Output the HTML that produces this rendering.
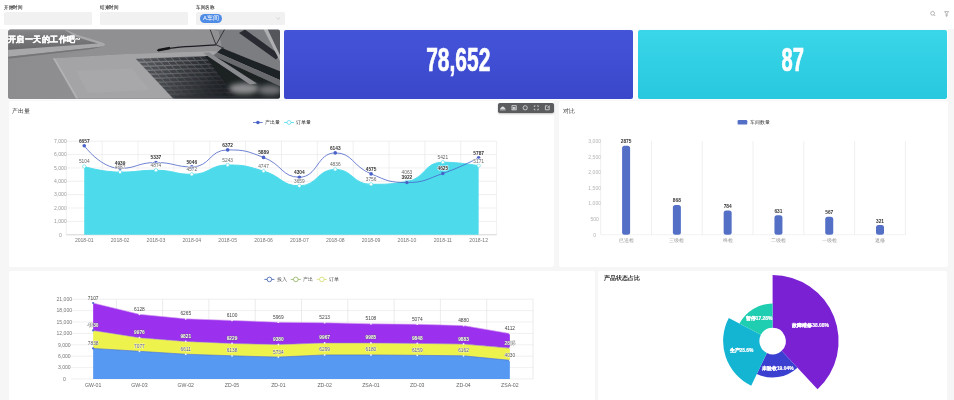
<!DOCTYPE html>
<html><head><meta charset="utf-8">
<style>
*{margin:0;padding:0;box-sizing:border-box}
html,body{width:954px;height:400px;overflow:hidden;background:#f6f6f6;font-family:"Liberation Sans",sans-serif}
body{will-change:transform}
.abs{position:absolute}
.hdr{left:0;top:0;width:954px;height:29px;background:#fff}
.lbl{font-size:5.3px;color:#333;top:3.5px;-webkit-text-stroke:0.12px #333;line-height:6px;transform:scaleX(0.9);transform-origin:0 0;white-space:nowrap}
.inp{top:12.4px;height:12.6px;background:#f1f1f1;border-radius:1.5px}
.card{background:#fff;border-radius:2px}
.ttl{font-size:5.6px;color:#333;font-weight:normal;white-space:nowrap;line-height:7px}
.num{color:#fff;font-weight:bold;font-size:33px;line-height:33px;-webkit-text-stroke:0.7px #fff;white-space:nowrap;transform-origin:center center}
svg{position:absolute;left:0;top:0;overflow:visible}
svg text{font-family:"Liberation Sans",sans-serif}
</style></head><body>
<div class="abs hdr"></div>
<div class="abs lbl" style="left:4px">开始时间</div>
<div class="abs lbl" style="left:100px">结束时间</div>
<div class="abs lbl" style="left:196px">车间名称</div>
<div class="abs inp" style="left:4.3px;width:88.2px"></div>
<div class="abs inp" style="left:100.2px;width:88px"></div>
<div class="abs inp" style="left:196.3px;width:89px"></div>
<div class="abs" style="left:200px;top:14px;width:22px;height:9px;border-radius:4.5px;background:#4f8ce6;color:#fff;font-size:5.8px;line-height:9px;text-align:center;font-weight:normal">A车间</div>

<svg style="position:absolute;left:0;top:0" width="954" height="30">
<path d="M276.3 17.6 L278.2 19.4 L280.1 17.6" fill="none" stroke="#c0c0c0" stroke-width="0.6"/>
<circle cx="932.6" cy="13.3" r="1.9" fill="none" stroke="#888" stroke-width="0.6"/>
<line x1="934" y1="14.7" x2="935.3" y2="16" stroke="#888" stroke-width="0.6"/>
<path d="M944.6 11.6 L948.6 11.6 L947.1 13.6 L947.1 16.2 L946.1 16.2 L946.1 13.6 Z" fill="none" stroke="#888" stroke-width="0.6"/>
</svg>
<!-- top row strip -->
<div class="abs" style="left:8px;top:29px;width:940px;height:71px;background:#fafbfc"></div>
<div class="abs card" id="banner" style="left:8.3px;top:29.5px;width:271.7px;height:69px;background:#8a8b8e;overflow:hidden"></div>
<div class="abs card" style="left:284px;top:29.5px;width:348.5px;height:69.2px;background:linear-gradient(#4454d9,#3a47cb)"></div>
<div class="abs card" style="left:637.5px;top:29.5px;width:309.3px;height:69.2px;background:linear-gradient(#3ad6e9,#28c8de)"></div>

<!-- mid row -->
<div class="abs card" style="left:8.5px;top:100.5px;width:545.5px;height:166.5px"></div>
<div class="abs card" style="left:559px;top:100.5px;width:389px;height:166.5px"></div>
<!-- bottom row -->
<div class="abs card" style="left:8.5px;top:271px;width:586px;height:140px"></div>
<div class="abs card" style="left:598px;top:271px;width:349px;height:140px"></div>


<div class="abs num" style="left:284px;top:42.9px;width:348.5px;text-align:center;transform:scaleX(0.635)">78,652</div>
<div class="abs num" style="left:637.5px;top:42.9px;width:309.3px;text-align:center;transform:scaleX(0.61)">87</div>
<div class="abs" style="left:497.7px;top:103px;width:56.5px;height:9.7px;border-radius:1.8px;background:#5b5c5e;box-shadow:0 1px 2px rgba(0,0,0,0.25)"></div>
<div class="abs ttl" style="left:12.4px;top:108px;color:#333">产出量</div>
<div class="abs ttl" style="left:562.5px;top:107.8px;color:#444">对比</div>
<div class="abs ttl" style="left:603.8px;top:274.4px;font-size:6.35px;font-weight:bold">产品状态占比</div>
<svg width="954" height="400" viewBox="0 0 954 400">
<defs><clipPath id="bc"><rect x="8.3" y="29.5" width="271.7" height="69" rx="2"/></clipPath>
<clipPath id="kc"><path d="M135.4 58.5 L205.6 56 L282 92 L282 100 L174.5 100 Z"/></clipPath>
<linearGradient id="kbg" x1="0" y1="0" x2="1" y2="0.3"><stop offset="0" stop-color="#8c8d90"/><stop offset="0.3" stop-color="#6a6c70"/><stop offset="0.65" stop-color="#2e3135"/><stop offset="1" stop-color="#1c1e22"/></linearGradient>
<linearGradient id="tsg" x1="0" y1="0" x2="0" y2="1"><stop offset="0" stop-color="#858587"/><stop offset="1" stop-color="#68686a"/></linearGradient><linearGradient id="bgg" x1="0" y1="0" x2="1" y2="0"><stop offset="0" stop-color="#8d8d90"/><stop offset="1" stop-color="#949497"/></linearGradient>
<filter id="bl" x="-5%" y="-5%" width="110%" height="110%"><feGaussianBlur stdDeviation="0.4"/></filter>
<filter id="bl2" x="-50%" y="-50%" width="200%" height="200%"><feGaussianBlur stdDeviation="2.5"/></filter></defs>
<g clip-path="url(#bc)"><g filter="url(#bl)">
<rect x="7" y="28" width="275" height="72" fill="url(#bgg)"/>
<rect x="7" y="28" width="275" height="2.3" fill="#66676a"/>
<path d="M6 30 L67 30 L77 34.6 L103 42.4 Q107.5 44.3 103 46.6 L6 57 Z" fill="#a8a8aa"/>
<path d="M6 30 L65 30 L75.5 36.8 L98 43.5 L6 50 Z" fill="url(#tsg)"/>
<path d="M6 57 L103 46.5 L101 48 L6 59 Z" fill="#757577"/>
<path d="M53 58.3 L120 54.2 L212 51 L282 60 L282 100 L77 100 Z" fill="#a4a4a6"/>
<path d="M53 58.3 L77 100 L79 100 L55 58.2 Z" fill="#b3b3b5"/>
<path d="M76 71 L132 68.5 L150 90 L88 93 Z" fill="#a8a8aa"/>
<path d="M135.4 58.5 L205.6 56 L282 92 L282 100 L174.5 100 Z" fill="url(#kbg)"/>
<g clip-path="url(#kc)">
<path d="M121.4 59.3 L127.6 59.2 L130.2 61.9 L124.0 62.1 Z" fill="#606266"/>
<path d="M128.6 59.1 L134.8 58.9 L137.4 61.7 L131.2 61.8 Z" fill="#606266"/>
<path d="M135.8 58.9 L142.0 58.7 L144.6 61.4 L138.4 61.6 Z" fill="#585a5e"/>
<path d="M143.0 58.7 L149.2 58.5 L151.8 61.2 L145.6 61.4 Z" fill="#525458"/>
<path d="M150.2 58.5 L156.4 58.3 L159.0 61.0 L152.8 61.2 Z" fill="#4c4e52"/>
<path d="M157.4 58.2 L163.6 58.1 L166.2 60.8 L160.0 61.0 Z" fill="#46494d"/>
<path d="M164.6 58.0 L170.8 57.8 L173.4 60.6 L167.2 60.7 Z" fill="#414448"/>
<path d="M171.8 57.8 L178.0 57.6 L180.6 60.3 L174.4 60.5 Z" fill="#3c3f43"/>
<path d="M179.0 57.6 L185.2 57.4 L187.8 60.1 L181.6 60.3 Z" fill="#383a3f"/>
<path d="M186.2 57.4 L192.4 57.2 L195.0 59.9 L188.8 60.1 Z" fill="#33363a"/>
<path d="M193.4 57.1 L199.6 57.0 L202.2 59.7 L196.0 59.9 Z" fill="#2e3136"/>
<path d="M200.6 56.9 L206.8 56.7 L209.4 59.5 L203.2 59.6 Z" fill="#2a2d32"/>
<path d="M207.8 56.7 L214.0 56.5 L216.6 59.2 L210.4 59.4 Z" fill="#26292d"/>
<path d="M215.0 56.5 L221.2 56.3 L223.8 59.0 L217.6 59.2 Z" fill="#212429"/>
<path d="M222.2 56.3 L228.4 56.1 L231.0 58.8 L224.8 59.0 Z" fill="#1d2025"/>
<path d="M229.4 56.0 L235.6 55.9 L238.2 58.6 L232.0 58.8 Z" fill="#1c1f24"/>
<path d="M236.6 55.8 L242.8 55.6 L245.4 58.4 L239.2 58.5 Z" fill="#1c1f24"/>
<path d="M243.8 55.6 L250.0 55.4 L252.6 58.1 L246.4 58.3 Z" fill="#1c1f24"/>
<path d="M251.0 55.4 L257.2 55.2 L259.8 57.9 L253.6 58.1 Z" fill="#1c1f24"/>
<path d="M258.2 55.2 L264.4 55.0 L267.0 57.7 L260.8 57.9 Z" fill="#1c1f24"/>
<path d="M125.2 63.3 L131.4 63.2 L134.1 65.9 L127.9 66.1 Z" fill="#606266"/>
<path d="M132.5 63.1 L138.6 62.9 L141.3 65.7 L135.1 65.8 Z" fill="#5c5e62"/>
<path d="M139.7 62.9 L145.8 62.7 L148.5 65.4 L142.3 65.6 Z" fill="#55575b"/>
<path d="M146.8 62.7 L153.0 62.5 L155.7 65.2 L149.5 65.4 Z" fill="#4f5155"/>
<path d="M154.1 62.5 L160.2 62.3 L162.9 65.0 L156.7 65.2 Z" fill="#494b50"/>
<path d="M161.2 62.2 L167.4 62.1 L170.1 64.8 L163.9 65.0 Z" fill="#44464b"/>
<path d="M168.5 62.0 L174.6 61.8 L177.3 64.6 L171.1 64.7 Z" fill="#3f4146"/>
<path d="M175.7 61.8 L181.8 61.6 L184.5 64.3 L178.3 64.5 Z" fill="#3a3c41"/>
<path d="M182.8 61.6 L189.0 61.4 L191.7 64.1 L185.5 64.3 Z" fill="#35383c"/>
<path d="M190.1 61.4 L196.2 61.2 L198.9 63.9 L192.7 64.1 Z" fill="#313338"/>
<path d="M197.2 61.1 L203.4 61.0 L206.1 63.7 L199.9 63.9 Z" fill="#2c2f34"/>
<path d="M204.5 60.9 L210.6 60.7 L213.3 63.5 L207.1 63.6 Z" fill="#282b2f"/>
<path d="M211.7 60.7 L217.8 60.5 L220.5 63.2 L214.3 63.4 Z" fill="#23262b"/>
<path d="M218.8 60.5 L225.0 60.3 L227.7 63.0 L221.5 63.2 Z" fill="#1f2227"/>
<path d="M226.1 60.3 L232.2 60.1 L234.9 62.8 L228.7 63.0 Z" fill="#1c1f24"/>
<path d="M233.3 60.0 L239.4 59.9 L242.1 62.6 L235.9 62.8 Z" fill="#1c1f24"/>
<path d="M240.5 59.8 L246.6 59.6 L249.3 62.4 L243.1 62.5 Z" fill="#1c1f24"/>
<path d="M247.7 59.6 L253.8 59.4 L256.5 62.1 L250.3 62.3 Z" fill="#1c1f24"/>
<path d="M254.8 59.4 L261.0 59.2 L263.7 61.9 L257.5 62.1 Z" fill="#1c1f24"/>
<path d="M262.1 59.2 L268.2 59.0 L270.9 61.7 L264.7 61.9 Z" fill="#1c1f24"/>
<path d="M129.1 67.3 L135.3 67.2 L137.9 69.9 L131.7 70.1 Z" fill="#606266"/>
<path d="M136.3 67.1 L142.5 66.9 L145.1 69.7 L138.9 69.8 Z" fill="#585a5e"/>
<path d="M143.5 66.9 L149.7 66.7 L152.3 69.4 L146.1 69.6 Z" fill="#515358"/>
<path d="M150.7 66.7 L156.9 66.5 L159.5 69.2 L153.3 69.4 Z" fill="#4b4e52"/>
<path d="M157.9 66.5 L164.1 66.3 L166.7 69.0 L160.5 69.2 Z" fill="#46484d"/>
<path d="M165.1 66.2 L171.3 66.1 L173.9 68.8 L167.7 69.0 Z" fill="#414348"/>
<path d="M172.3 66.0 L178.5 65.8 L181.1 68.6 L174.9 68.7 Z" fill="#3c3f43"/>
<path d="M179.5 65.8 L185.7 65.6 L188.3 68.3 L182.1 68.5 Z" fill="#373a3e"/>
<path d="M186.7 65.6 L192.9 65.4 L195.5 68.1 L189.3 68.3 Z" fill="#33353a"/>
<path d="M193.9 65.4 L200.1 65.2 L202.7 67.9 L196.5 68.1 Z" fill="#2e3136"/>
<path d="M201.1 65.1 L207.3 65.0 L209.9 67.7 L203.7 67.9 Z" fill="#2a2d31"/>
<path d="M208.3 64.9 L214.5 64.7 L217.1 67.5 L210.9 67.6 Z" fill="#25282d"/>
<path d="M215.5 64.7 L221.7 64.5 L224.3 67.2 L218.1 67.4 Z" fill="#212429"/>
<path d="M222.7 64.5 L228.9 64.3 L231.5 67.0 L225.3 67.2 Z" fill="#1d2025"/>
<path d="M229.9 64.3 L236.1 64.1 L238.7 66.8 L232.5 67.0 Z" fill="#1c1f24"/>
<path d="M237.1 64.0 L243.3 63.9 L245.9 66.6 L239.7 66.8 Z" fill="#1c1f24"/>
<path d="M244.3 63.8 L250.5 63.6 L253.1 66.4 L246.9 66.5 Z" fill="#1c1f24"/>
<path d="M251.5 63.6 L257.7 63.4 L260.3 66.1 L254.1 66.3 Z" fill="#1c1f24"/>
<path d="M258.7 63.4 L264.9 63.2 L267.5 65.9 L261.3 66.1 Z" fill="#1c1f24"/>
<path d="M265.9 63.2 L272.1 63.0 L274.7 65.7 L268.5 65.9 Z" fill="#1c1f24"/>
<path d="M133.0 71.3 L139.1 71.2 L141.8 73.9 L135.6 74.1 Z" fill="#5b5d61"/>
<path d="M140.2 71.1 L146.3 70.9 L149.0 73.7 L142.8 73.8 Z" fill="#54565b"/>
<path d="M147.4 70.9 L153.5 70.7 L156.2 73.4 L150.0 73.6 Z" fill="#4e5055"/>
<path d="M154.6 70.7 L160.7 70.5 L163.4 73.2 L157.2 73.4 Z" fill="#494b4f"/>
<path d="M161.8 70.5 L167.9 70.3 L170.6 73.0 L164.4 73.2 Z" fill="#43464a"/>
<path d="M169.0 70.2 L175.1 70.1 L177.8 72.8 L171.6 73.0 Z" fill="#3e4145"/>
<path d="M176.2 70.0 L182.3 69.8 L185.0 72.6 L178.8 72.7 Z" fill="#393c41"/>
<path d="M183.4 69.8 L189.5 69.6 L192.2 72.3 L186.0 72.5 Z" fill="#35373c"/>
<path d="M190.6 69.6 L196.7 69.4 L199.4 72.1 L193.2 72.3 Z" fill="#303338"/>
<path d="M197.8 69.4 L203.9 69.2 L206.6 71.9 L200.4 72.1 Z" fill="#2c2f33"/>
<path d="M205.0 69.1 L211.1 69.0 L213.8 71.7 L207.6 71.9 Z" fill="#272a2f"/>
<path d="M212.2 68.9 L218.3 68.7 L221.0 71.5 L214.8 71.6 Z" fill="#23262b"/>
<path d="M219.4 68.7 L225.5 68.5 L228.2 71.2 L222.0 71.4 Z" fill="#1f2227"/>
<path d="M226.6 68.5 L232.7 68.3 L235.4 71.0 L229.2 71.2 Z" fill="#1c1f24"/>
<path d="M233.8 68.3 L239.9 68.1 L242.6 70.8 L236.4 71.0 Z" fill="#1c1f24"/>
<path d="M241.0 68.0 L247.1 67.9 L249.8 70.6 L243.6 70.8 Z" fill="#1c1f24"/>
<path d="M248.2 67.8 L254.3 67.6 L257.0 70.4 L250.8 70.5 Z" fill="#1c1f24"/>
<path d="M255.4 67.6 L261.5 67.4 L264.2 70.1 L258.0 70.3 Z" fill="#1c1f24"/>
<path d="M262.6 67.4 L268.7 67.2 L271.4 69.9 L265.2 70.1 Z" fill="#1c1f24"/>
<path d="M269.8 67.2 L275.9 67.0 L278.6 69.7 L272.4 69.9 Z" fill="#1c1f24"/>
<path d="M136.8 75.3 L143.0 75.2 L145.6 77.9 L139.4 78.1 Z" fill="#57595e"/>
<path d="M144.0 75.1 L150.2 74.9 L152.8 77.7 L146.6 77.8 Z" fill="#515357"/>
<path d="M151.2 74.9 L157.4 74.7 L160.0 77.4 L153.8 77.6 Z" fill="#4b4d52"/>
<path d="M158.4 74.7 L164.6 74.5 L167.2 77.2 L161.0 77.4 Z" fill="#46484d"/>
<path d="M165.6 74.5 L171.8 74.3 L174.4 77.0 L168.2 77.2 Z" fill="#414348"/>
<path d="M172.8 74.2 L179.0 74.1 L181.6 76.8 L175.4 77.0 Z" fill="#3c3e43"/>
<path d="M180.0 74.0 L186.2 73.8 L188.8 76.6 L182.6 76.7 Z" fill="#373a3e"/>
<path d="M187.2 73.8 L193.4 73.6 L196.0 76.3 L189.8 76.5 Z" fill="#32353a"/>
<path d="M194.4 73.6 L200.6 73.4 L203.2 76.1 L197.0 76.3 Z" fill="#2e3135"/>
<path d="M201.6 73.4 L207.8 73.2 L210.4 75.9 L204.2 76.1 Z" fill="#292c31"/>
<path d="M208.8 73.1 L215.0 73.0 L217.6 75.7 L211.4 75.9 Z" fill="#25282d"/>
<path d="M216.0 72.9 L222.2 72.7 L224.8 75.5 L218.6 75.6 Z" fill="#212429"/>
<path d="M223.2 72.7 L229.4 72.5 L232.0 75.2 L225.8 75.4 Z" fill="#1d2025"/>
<path d="M230.4 72.5 L236.6 72.3 L239.2 75.0 L233.0 75.2 Z" fill="#1c1f24"/>
<path d="M237.6 72.3 L243.8 72.1 L246.4 74.8 L240.2 75.0 Z" fill="#1c1f24"/>
<path d="M244.8 72.0 L251.0 71.9 L253.6 74.6 L247.4 74.8 Z" fill="#1c1f24"/>
<path d="M252.0 71.8 L258.2 71.6 L260.8 74.4 L254.6 74.5 Z" fill="#1c1f24"/>
<path d="M259.2 71.6 L265.4 71.4 L268.0 74.1 L261.8 74.3 Z" fill="#1c1f24"/>
<path d="M266.4 71.4 L272.6 71.2 L275.2 73.9 L269.0 74.1 Z" fill="#1c1f24"/>
<path d="M273.6 71.2 L279.8 71.0 L282.4 73.7 L276.2 73.9 Z" fill="#1c1f24"/>
<path d="M140.7 79.3 L146.8 79.2 L149.5 81.9 L143.3 82.1 Z" fill="#54565a"/>
<path d="M147.9 79.1 L154.0 78.9 L156.7 81.7 L150.5 81.8 Z" fill="#4e5054"/>
<path d="M155.1 78.9 L161.2 78.7 L163.9 81.4 L157.7 81.6 Z" fill="#484b4f"/>
<path d="M162.2 78.7 L168.4 78.5 L171.1 81.2 L164.9 81.4 Z" fill="#43454a"/>
<path d="M169.5 78.5 L175.6 78.3 L178.3 81.0 L172.1 81.2 Z" fill="#3e4045"/>
<path d="M176.7 78.2 L182.8 78.1 L185.5 80.8 L179.3 81.0 Z" fill="#393c40"/>
<path d="M183.9 78.0 L190.0 77.8 L192.7 80.6 L186.5 80.7 Z" fill="#34373c"/>
<path d="M191.1 77.8 L197.2 77.6 L199.9 80.3 L193.7 80.5 Z" fill="#303337"/>
<path d="M198.2 77.6 L204.4 77.4 L207.1 80.1 L200.9 80.3 Z" fill="#2b2e33"/>
<path d="M205.5 77.4 L211.6 77.2 L214.3 79.9 L208.1 80.1 Z" fill="#272a2f"/>
<path d="M212.7 77.1 L218.8 77.0 L221.5 79.7 L215.3 79.9 Z" fill="#23262b"/>
<path d="M219.9 76.9 L226.0 76.7 L228.7 79.5 L222.5 79.6 Z" fill="#1f2227"/>
<path d="M227.1 76.7 L233.2 76.5 L235.9 79.2 L229.7 79.4 Z" fill="#1c1f24"/>
<path d="M234.2 76.5 L240.4 76.3 L243.1 79.0 L236.9 79.2 Z" fill="#1c1f24"/>
<path d="M241.5 76.3 L247.6 76.1 L250.3 78.8 L244.1 79.0 Z" fill="#1c1f24"/>
<path d="M248.7 76.0 L254.8 75.9 L257.5 78.6 L251.3 78.8 Z" fill="#1c1f24"/>
<path d="M255.9 75.8 L262.0 75.6 L264.7 78.4 L258.5 78.5 Z" fill="#1c1f24"/>
<path d="M263.1 75.6 L269.2 75.4 L271.9 78.1 L265.7 78.3 Z" fill="#1c1f24"/>
<path d="M270.2 75.4 L276.4 75.2 L279.1 77.9 L272.9 78.1 Z" fill="#1c1f24"/>
<path d="M277.5 75.2 L283.6 75.0 L286.3 77.7 L280.1 77.9 Z" fill="#1c1f24"/>
<path d="M144.5 83.3 L150.7 83.2 L153.3 85.9 L147.1 86.1 Z" fill="#505357"/>
<path d="M151.7 83.1 L157.9 82.9 L160.5 85.7 L154.3 85.8 Z" fill="#4b4d51"/>
<path d="M158.9 82.9 L165.1 82.7 L167.7 85.4 L161.5 85.6 Z" fill="#45484c"/>
<path d="M166.1 82.7 L172.3 82.5 L174.9 85.2 L168.7 85.4 Z" fill="#404347"/>
<path d="M173.3 82.5 L179.5 82.3 L182.1 85.0 L175.9 85.2 Z" fill="#3b3e42"/>
<path d="M180.5 82.2 L186.7 82.1 L189.3 84.8 L183.1 85.0 Z" fill="#37393e"/>
<path d="M187.7 82.0 L193.9 81.8 L196.5 84.6 L190.3 84.7 Z" fill="#323539"/>
<path d="M194.9 81.8 L201.1 81.6 L203.7 84.3 L197.5 84.5 Z" fill="#2e3035"/>
<path d="M202.1 81.6 L208.3 81.4 L210.9 84.1 L204.7 84.3 Z" fill="#292c31"/>
<path d="M209.3 81.4 L215.5 81.2 L218.1 83.9 L211.9 84.1 Z" fill="#25282d"/>
<path d="M216.5 81.1 L222.7 81.0 L225.3 83.7 L219.1 83.9 Z" fill="#212428"/>
<path d="M223.7 80.9 L229.9 80.7 L232.5 83.5 L226.3 83.6 Z" fill="#1c1f24"/>
<path d="M230.9 80.7 L237.1 80.5 L239.7 83.2 L233.5 83.4 Z" fill="#1c1f24"/>
<path d="M238.1 80.5 L244.3 80.3 L246.9 83.0 L240.7 83.2 Z" fill="#1c1f24"/>
<path d="M245.3 80.3 L251.5 80.1 L254.1 82.8 L247.9 83.0 Z" fill="#1c1f24"/>
<path d="M252.5 80.0 L258.7 79.9 L261.3 82.6 L255.1 82.8 Z" fill="#1c1f24"/>
<path d="M259.7 79.8 L265.9 79.6 L268.5 82.4 L262.3 82.5 Z" fill="#1c1f24"/>
<path d="M266.9 79.6 L273.1 79.4 L275.7 82.1 L269.5 82.3 Z" fill="#1c1f24"/>
<path d="M274.1 79.4 L280.3 79.2 L282.9 81.9 L276.7 82.1 Z" fill="#1c1f24"/>
<path d="M281.3 79.2 L287.5 79.0 L290.1 81.7 L283.9 81.9 Z" fill="#1c1f24"/>
<path d="M148.3 87.3 L154.5 87.2 L157.2 89.9 L151.0 90.1 Z" fill="#4d5054"/>
<path d="M155.6 87.1 L161.7 86.9 L164.4 89.7 L158.2 89.8 Z" fill="#484a4f"/>
<path d="M162.8 86.9 L168.9 86.7 L171.6 89.4 L165.4 89.6 Z" fill="#434549"/>
<path d="M169.9 86.7 L176.1 86.5 L178.8 89.2 L172.6 89.4 Z" fill="#3e4045"/>
<path d="M177.2 86.5 L183.3 86.3 L186.0 89.0 L179.8 89.2 Z" fill="#393b40"/>
<path d="M184.3 86.2 L190.5 86.1 L193.2 88.8 L187.0 89.0 Z" fill="#34373b"/>
<path d="M191.6 86.0 L197.7 85.8 L200.4 88.6 L194.2 88.7 Z" fill="#303237"/>
<path d="M198.8 85.8 L204.9 85.6 L207.6 88.3 L201.4 88.5 Z" fill="#2b2e33"/>
<path d="M205.9 85.6 L212.1 85.4 L214.8 88.1 L208.6 88.3 Z" fill="#272a2f"/>
<path d="M213.2 85.4 L219.3 85.2 L222.0 87.9 L215.8 88.1 Z" fill="#23252a"/>
<path d="M220.3 85.1 L226.5 85.0 L229.2 87.7 L223.0 87.9 Z" fill="#1e2126"/>
<path d="M227.6 84.9 L233.7 84.7 L236.4 87.5 L230.2 87.6 Z" fill="#1c1f24"/>
<path d="M234.8 84.7 L240.9 84.5 L243.6 87.2 L237.4 87.4 Z" fill="#1c1f24"/>
<path d="M241.9 84.5 L248.1 84.3 L250.8 87.0 L244.6 87.2 Z" fill="#1c1f24"/>
<path d="M249.2 84.3 L255.3 84.1 L258.0 86.8 L251.8 87.0 Z" fill="#1c1f24"/>
<path d="M256.4 84.0 L262.5 83.9 L265.2 86.6 L259.0 86.8 Z" fill="#1c1f24"/>
<path d="M263.6 83.8 L269.7 83.6 L272.4 86.4 L266.2 86.5 Z" fill="#1c1f24"/>
<path d="M270.8 83.6 L276.9 83.4 L279.6 86.1 L273.4 86.3 Z" fill="#1c1f24"/>
<path d="M277.9 83.4 L284.1 83.2 L286.8 85.9 L280.6 86.1 Z" fill="#1c1f24"/>
<path d="M285.2 83.2 L291.3 83.0 L294.0 85.7 L287.8 85.9 Z" fill="#1c1f24"/>
<path d="M152.2 91.3 L158.4 91.2 L161.0 93.9 L154.8 94.1 Z" fill="#4a4d51"/>
<path d="M159.4 91.1 L165.6 90.9 L168.2 93.7 L162.0 93.8 Z" fill="#45474c"/>
<path d="M166.6 90.9 L172.8 90.7 L175.4 93.4 L169.2 93.6 Z" fill="#404247"/>
<path d="M173.8 90.7 L180.0 90.5 L182.6 93.2 L176.4 93.4 Z" fill="#3b3e42"/>
<path d="M181.0 90.5 L187.2 90.3 L189.8 93.0 L183.6 93.2 Z" fill="#36393e"/>
<path d="M188.2 90.2 L194.4 90.1 L197.0 92.8 L190.8 93.0 Z" fill="#323439"/>
<path d="M195.4 90.0 L201.6 89.8 L204.2 92.6 L198.0 92.7 Z" fill="#2d3035"/>
<path d="M202.6 89.8 L208.8 89.6 L211.4 92.3 L205.2 92.5 Z" fill="#292c30"/>
<path d="M209.8 89.6 L216.0 89.4 L218.6 92.1 L212.4 92.3 Z" fill="#25272c"/>
<path d="M217.0 89.4 L223.2 89.2 L225.8 91.9 L219.6 92.1 Z" fill="#202328"/>
<path d="M224.2 89.1 L230.4 89.0 L233.0 91.7 L226.8 91.9 Z" fill="#1c1f24"/>
<path d="M231.4 88.9 L237.6 88.7 L240.2 91.5 L234.0 91.6 Z" fill="#1c1f24"/>
<path d="M238.6 88.7 L244.8 88.5 L247.4 91.2 L241.2 91.4 Z" fill="#1c1f24"/>
<path d="M245.8 88.5 L252.0 88.3 L254.6 91.0 L248.4 91.2 Z" fill="#1c1f24"/>
<path d="M253.0 88.3 L259.2 88.1 L261.8 90.8 L255.6 91.0 Z" fill="#1c1f24"/>
<path d="M260.2 88.0 L266.4 87.9 L269.0 90.6 L262.8 90.8 Z" fill="#1c1f24"/>
<path d="M267.4 87.8 L273.6 87.6 L276.2 90.4 L270.0 90.5 Z" fill="#1c1f24"/>
<path d="M274.6 87.6 L280.8 87.4 L283.4 90.1 L277.2 90.3 Z" fill="#1c1f24"/>
<path d="M281.8 87.4 L288.0 87.2 L290.6 89.9 L284.4 90.1 Z" fill="#1c1f24"/>
<path d="M289.0 87.2 L295.2 87.0 L297.8 89.7 L291.6 89.9 Z" fill="#1c1f24"/>
<path d="M156.1 95.3 L162.2 95.2 L164.9 97.9 L158.7 98.1 Z" fill="#474a4e"/>
<path d="M163.3 95.1 L169.4 94.9 L172.1 97.7 L165.9 97.8 Z" fill="#424549"/>
<path d="M170.5 94.9 L176.6 94.7 L179.3 97.4 L173.1 97.6 Z" fill="#3d4044"/>
<path d="M177.7 94.7 L183.8 94.5 L186.5 97.2 L180.3 97.4 Z" fill="#393b40"/>
<path d="M184.9 94.5 L191.0 94.3 L193.7 97.0 L187.5 97.2 Z" fill="#34363b"/>
<path d="M192.1 94.2 L198.2 94.1 L200.9 96.8 L194.7 97.0 Z" fill="#2f3237"/>
<path d="M199.3 94.0 L205.4 93.8 L208.1 96.6 L201.9 96.7 Z" fill="#2b2e32"/>
<path d="M206.5 93.8 L212.6 93.6 L215.3 96.3 L209.1 96.5 Z" fill="#27292e"/>
<path d="M213.7 93.6 L219.8 93.4 L222.5 96.1 L216.3 96.3 Z" fill="#22252a"/>
<path d="M220.9 93.4 L227.0 93.2 L229.7 95.9 L223.5 96.1 Z" fill="#1e2126"/>
<path d="M228.1 93.1 L234.2 93.0 L236.9 95.7 L230.7 95.9 Z" fill="#1c1f24"/>
<path d="M235.3 92.9 L241.4 92.7 L244.1 95.5 L237.9 95.6 Z" fill="#1c1f24"/>
<path d="M242.5 92.7 L248.6 92.5 L251.3 95.2 L245.1 95.4 Z" fill="#1c1f24"/>
<path d="M249.7 92.5 L255.8 92.3 L258.5 95.0 L252.3 95.2 Z" fill="#1c1f24"/>
<path d="M256.9 92.3 L263.0 92.1 L265.7 94.8 L259.5 95.0 Z" fill="#1c1f24"/>
<path d="M264.1 92.0 L270.2 91.9 L272.9 94.6 L266.7 94.8 Z" fill="#1c1f24"/>
<path d="M271.2 91.8 L277.4 91.6 L280.1 94.4 L273.9 94.5 Z" fill="#1c1f24"/>
<path d="M278.4 91.6 L284.6 91.4 L287.3 94.1 L281.1 94.3 Z" fill="#1c1f24"/>
<path d="M285.6 91.4 L291.8 91.2 L294.5 93.9 L288.3 94.1 Z" fill="#1c1f24"/>
<path d="M292.9 91.2 L299.0 91.0 L301.7 93.7 L295.5 93.9 Z" fill="#1c1f24"/>
<path d="M159.9 99.3 L166.1 99.2 L168.7 101.9 L162.5 102.1 Z" fill="#45474b"/>
<path d="M167.1 99.1 L173.3 98.9 L175.9 101.7 L169.7 101.8 Z" fill="#404247"/>
<path d="M174.3 98.9 L180.5 98.7 L183.1 101.4 L176.9 101.6 Z" fill="#3b3d42"/>
<path d="M181.5 98.7 L187.7 98.5 L190.3 101.2 L184.1 101.4 Z" fill="#36393d"/>
<path d="M188.7 98.5 L194.9 98.3 L197.5 101.0 L191.3 101.2 Z" fill="#313439"/>
<path d="M195.9 98.2 L202.1 98.1 L204.7 100.8 L198.5 101.0 Z" fill="#2d3034"/>
<path d="M203.1 98.0 L209.3 97.8 L211.9 100.6 L205.7 100.7 Z" fill="#292b30"/>
<path d="M210.3 97.8 L216.5 97.6 L219.1 100.3 L212.9 100.5 Z" fill="#24272c"/>
<path d="M217.5 97.6 L223.7 97.4 L226.3 100.1 L220.1 100.3 Z" fill="#202328"/>
<path d="M224.7 97.4 L230.9 97.2 L233.5 99.9 L227.3 100.1 Z" fill="#1c1f24"/>
<path d="M231.9 97.1 L238.1 97.0 L240.7 99.7 L234.5 99.9 Z" fill="#1c1f24"/>
<path d="M239.1 96.9 L245.3 96.7 L247.9 99.5 L241.7 99.6 Z" fill="#1c1f24"/>
<path d="M246.3 96.7 L252.5 96.5 L255.1 99.2 L248.9 99.4 Z" fill="#1c1f24"/>
<path d="M253.5 96.5 L259.7 96.3 L262.3 99.0 L256.1 99.2 Z" fill="#1c1f24"/>
<path d="M260.7 96.3 L266.9 96.1 L269.5 98.8 L263.3 99.0 Z" fill="#1c1f24"/>
<path d="M267.9 96.0 L274.1 95.9 L276.7 98.6 L270.5 98.8 Z" fill="#1c1f24"/>
<path d="M275.1 95.8 L281.3 95.6 L283.9 98.4 L277.7 98.5 Z" fill="#1c1f24"/>
<path d="M282.3 95.6 L288.5 95.4 L291.1 98.1 L284.9 98.3 Z" fill="#1c1f24"/>
<path d="M289.5 95.4 L295.7 95.2 L298.3 97.9 L292.1 98.1 Z" fill="#1c1f24"/>
<path d="M296.7 95.2 L302.9 95.0 L305.5 97.7 L299.3 97.9 Z" fill="#1c1f24"/>
</g>
<path d="M104 30 L215 30 L222 49 L212 51 L120 54.2 L53 58.3 L103 46.6 Q107.5 44.3 103 42.4 L77 34.6 L67 30 Z" fill="#909093"/>
<path d="M218 29 L282 29 L282 72 L222 48 Z" fill="#7c7d81"/>
<path d="M239 33 L245 29.5 L280 55 L276 59.5 Z" fill="#2a2c31"/>
<path d="M267 29 L282 29 L282 60 Z" fill="#55575b"/>
<path d="M263.5 29 L267.5 29 L282 59.5 L282 65 Z" fill="#b0b0b3"/>
<path d="M222 48 L282 72 L282 81 L217 52.5 Z" fill="#1f2226"/>
<path d="M217 52.5 L282 81 L282 87 L213 55.5 Z" fill="#68696d"/>
<path d="M213 55.5 L282 87 L282 100 L238 100 L205 56 Z" fill="#1d2024"/>
<path d="M203 53 L209 52.3 L257 83.5 L250 84.5 Z" fill="#8a8b8f"/>
<path d="M157 50.5 C168 47.5 185 46.5 200 45.8 C207 45.4 211 45 216 44.8" stroke="#1c1e22" stroke-width="1.2" fill="none"/>
<path d="M158 50.3 L170 48" stroke="#141518" stroke-width="2.4" fill="none"/>
<path d="M209.9 29 L216 44.8 L223.9 48.3 M224.8 29 L216 44.8" stroke="#2a2c30" stroke-width="0.9" fill="none"/>
<path d="M175 96 L282 96 L282 100 L175 100 Z" fill="#2c2f34" opacity="0.4"/>
</g>
<ellipse cx="244" cy="88.5" rx="15" ry="5.5" fill="#8d8d90" filter="url(#bl2)"/>
<ellipse cx="270" cy="90" rx="12" ry="5" fill="#707175" filter="url(#bl2)"/>
</g><line x1="66.30" y1="234.75" x2="496.60" y2="234.75" stroke="#e6e6e6" stroke-width="0.6"/>
<text x="60.40" y="236.55" font-size="5.1" fill="#999" text-anchor="middle" font-weight="normal" >0</text>
<line x1="66.30" y1="221.39" x2="496.60" y2="221.39" stroke="#e6e6e6" stroke-width="0.6"/>
<text x="60.40" y="223.19" font-size="5.1" fill="#999" text-anchor="middle" font-weight="normal" >1,000</text>
<line x1="66.30" y1="208.02" x2="496.60" y2="208.02" stroke="#e6e6e6" stroke-width="0.6"/>
<text x="60.40" y="209.82" font-size="5.1" fill="#999" text-anchor="middle" font-weight="normal" >2,000</text>
<line x1="66.30" y1="194.66" x2="496.60" y2="194.66" stroke="#e6e6e6" stroke-width="0.6"/>
<text x="60.40" y="196.46" font-size="5.1" fill="#999" text-anchor="middle" font-weight="normal" >3,000</text>
<line x1="66.30" y1="181.29" x2="496.60" y2="181.29" stroke="#e6e6e6" stroke-width="0.6"/>
<text x="60.40" y="183.09" font-size="5.1" fill="#999" text-anchor="middle" font-weight="normal" >4,000</text>
<line x1="66.30" y1="167.93" x2="496.60" y2="167.93" stroke="#e6e6e6" stroke-width="0.6"/>
<text x="60.40" y="169.73" font-size="5.1" fill="#999" text-anchor="middle" font-weight="normal" >5,000</text>
<line x1="66.30" y1="154.57" x2="496.60" y2="154.57" stroke="#e6e6e6" stroke-width="0.6"/>
<text x="60.40" y="156.37" font-size="5.1" fill="#999" text-anchor="middle" font-weight="normal" >6,000</text>
<line x1="66.30" y1="141.20" x2="496.60" y2="141.20" stroke="#e6e6e6" stroke-width="0.6"/>
<text x="60.40" y="143.00" font-size="5.1" fill="#999" text-anchor="middle" font-weight="normal" >7,000</text>
<line x1="66.30" y1="141.20" x2="66.30" y2="234.75" stroke="#e6e6e6" stroke-width="0.6"/>
<line x1="102.16" y1="141.20" x2="102.16" y2="234.75" stroke="#e6e6e6" stroke-width="0.6"/>
<line x1="138.02" y1="141.20" x2="138.02" y2="234.75" stroke="#e6e6e6" stroke-width="0.6"/>
<line x1="173.88" y1="141.20" x2="173.88" y2="234.75" stroke="#e6e6e6" stroke-width="0.6"/>
<line x1="209.73" y1="141.20" x2="209.73" y2="234.75" stroke="#e6e6e6" stroke-width="0.6"/>
<line x1="245.59" y1="141.20" x2="245.59" y2="234.75" stroke="#e6e6e6" stroke-width="0.6"/>
<line x1="281.45" y1="141.20" x2="281.45" y2="234.75" stroke="#e6e6e6" stroke-width="0.6"/>
<line x1="317.31" y1="141.20" x2="317.31" y2="234.75" stroke="#e6e6e6" stroke-width="0.6"/>
<line x1="353.17" y1="141.20" x2="353.17" y2="234.75" stroke="#e6e6e6" stroke-width="0.6"/>
<line x1="389.03" y1="141.20" x2="389.03" y2="234.75" stroke="#e6e6e6" stroke-width="0.6"/>
<line x1="424.88" y1="141.20" x2="424.88" y2="234.75" stroke="#e6e6e6" stroke-width="0.6"/>
<line x1="460.74" y1="141.20" x2="460.74" y2="234.75" stroke="#e6e6e6" stroke-width="0.6"/>
<line x1="496.60" y1="141.20" x2="496.60" y2="234.75" stroke="#e6e6e6" stroke-width="0.6"/>
<line x1="66.30" y1="234.75" x2="496.60" y2="234.75" stroke="#ccc" stroke-width="0.6"/>
<path d="M84.23 166.50 C84.23 166.50 102.06 172.10 120.09 172.10 C137.92 172.10 138.06 170.25 155.95 170.25 C173.92 170.25 174.11 174.30 191.80 174.30 C209.97 174.30 209.57 165.00 227.66 165.00 C245.43 165.00 246.16 166.06 263.52 171.10 C282.02 176.46 281.61 185.80 299.38 185.80 C317.46 185.80 317.17 169.40 335.24 169.40 C353.03 169.40 352.48 184.30 371.10 184.30 C388.34 184.30 390.14 184.30 406.95 181.50 C425.99 178.33 423.79 162.20 442.81 162.20 C459.65 162.20 478.67 165.70 478.67 165.70 L478.67 234.75 L84.23 234.75 Z" fill="#4ddbec"/>
<path d="M84.23 166.50 C84.23 166.50 102.06 172.10 120.09 172.10 C137.92 172.10 138.06 170.25 155.95 170.25 C173.92 170.25 174.11 174.30 191.80 174.30 C209.97 174.30 209.57 165.00 227.66 165.00 C245.43 165.00 246.16 166.06 263.52 171.10 C282.02 176.46 281.61 185.80 299.38 185.80 C317.46 185.80 317.17 169.40 335.24 169.40 C353.03 169.40 352.48 184.30 371.10 184.30 C388.34 184.30 390.14 184.30 406.95 181.50 C425.99 178.33 423.79 162.20 442.81 162.20 C459.65 162.20 478.67 165.70 478.67 165.70" fill="none" stroke="#4ddbec" stroke-width="1"/>
<path d="M84.23 145.70 C84.23 145.70 100.77 168.40 120.09 168.40 C136.63 168.40 137.96 162.50 155.95 162.50 C173.82 162.50 174.72 166.90 191.80 166.90 C210.57 166.90 209.02 149.90 227.66 149.90 C244.88 149.90 246.59 150.96 263.52 157.40 C282.45 164.61 281.95 177.20 299.38 177.20 C317.81 177.20 316.94 152.90 335.24 152.90 C352.79 152.90 352.10 166.06 371.10 173.90 C387.96 180.86 389.05 182.50 406.95 182.50 C424.91 182.50 425.40 179.52 442.81 173.50 C461.26 167.12 478.67 157.70 478.67 157.70" fill="none" stroke="#4a62c8" stroke-width="0.8"/>
<circle cx="84.23" cy="166.50" r="1.7" fill="#fff" stroke="#4ddbec" stroke-width="0.6"/>
<circle cx="120.09" cy="172.10" r="1.7" fill="#fff" stroke="#4ddbec" stroke-width="0.6"/>
<circle cx="155.95" cy="170.25" r="1.7" fill="#fff" stroke="#4ddbec" stroke-width="0.6"/>
<circle cx="191.80" cy="174.30" r="1.7" fill="#fff" stroke="#4ddbec" stroke-width="0.6"/>
<circle cx="227.66" cy="165.00" r="1.7" fill="#fff" stroke="#4ddbec" stroke-width="0.6"/>
<circle cx="263.52" cy="171.10" r="1.7" fill="#fff" stroke="#4ddbec" stroke-width="0.6"/>
<circle cx="299.38" cy="185.80" r="1.7" fill="#fff" stroke="#4ddbec" stroke-width="0.6"/>
<circle cx="335.24" cy="169.40" r="1.7" fill="#fff" stroke="#4ddbec" stroke-width="0.6"/>
<circle cx="371.10" cy="184.30" r="1.7" fill="#fff" stroke="#4ddbec" stroke-width="0.6"/>
<circle cx="406.95" cy="181.50" r="1.7" fill="#fff" stroke="#4ddbec" stroke-width="0.6"/>
<circle cx="442.81" cy="162.20" r="1.7" fill="#fff" stroke="#4ddbec" stroke-width="0.6"/>
<circle cx="478.67" cy="165.70" r="1.7" fill="#fff" stroke="#4ddbec" stroke-width="0.6"/>
<circle cx="84.23" cy="145.70" r="1.8" fill="#4a62c8"/>
<circle cx="120.09" cy="168.40" r="1.8" fill="#4a62c8"/>
<circle cx="155.95" cy="162.50" r="1.8" fill="#4a62c8"/>
<circle cx="191.80" cy="166.90" r="1.8" fill="#4a62c8"/>
<circle cx="227.66" cy="149.90" r="1.8" fill="#4a62c8"/>
<circle cx="263.52" cy="157.40" r="1.8" fill="#4a62c8"/>
<circle cx="299.38" cy="177.20" r="1.8" fill="#4a62c8"/>
<circle cx="335.24" cy="152.90" r="1.8" fill="#4a62c8"/>
<circle cx="371.10" cy="173.90" r="1.8" fill="#4a62c8"/>
<circle cx="406.95" cy="182.50" r="1.8" fill="#4a62c8"/>
<circle cx="442.81" cy="173.50" r="1.8" fill="#4a62c8"/>
<circle cx="478.67" cy="157.70" r="1.8" fill="#4a62c8"/>
<text x="84.23" y="163.30" font-size="4.8" fill="#666" text-anchor="middle" font-weight="normal" stroke="#fff" stroke-width="0.8" paint-order="stroke">5104</text>
<text x="120.09" y="168.90" font-size="4.8" fill="#666" text-anchor="middle" font-weight="normal" stroke="#fff" stroke-width="0.8" paint-order="stroke">4687</text>
<text x="155.95" y="167.05" font-size="4.8" fill="#666" text-anchor="middle" font-weight="normal" stroke="#fff" stroke-width="0.8" paint-order="stroke">4874</text>
<text x="191.80" y="171.10" font-size="4.8" fill="#666" text-anchor="middle" font-weight="normal" stroke="#fff" stroke-width="0.8" paint-order="stroke">4572</text>
<text x="227.66" y="161.80" font-size="4.8" fill="#666" text-anchor="middle" font-weight="normal" stroke="#fff" stroke-width="0.8" paint-order="stroke">5243</text>
<text x="263.52" y="167.90" font-size="4.8" fill="#666" text-anchor="middle" font-weight="normal" stroke="#fff" stroke-width="0.8" paint-order="stroke">4747</text>
<text x="299.38" y="182.60" font-size="4.8" fill="#666" text-anchor="middle" font-weight="normal" stroke="#fff" stroke-width="0.8" paint-order="stroke">3659</text>
<text x="335.24" y="166.20" font-size="4.8" fill="#666" text-anchor="middle" font-weight="normal" stroke="#fff" stroke-width="0.8" paint-order="stroke">4836</text>
<text x="371.10" y="181.10" font-size="4.8" fill="#666" text-anchor="middle" font-weight="normal" stroke="#fff" stroke-width="0.8" paint-order="stroke">3756</text>
<text x="406.95" y="173.70" font-size="4.8" fill="#666" text-anchor="middle" font-weight="normal" stroke="#fff" stroke-width="0.8" paint-order="stroke">4063</text>
<text x="442.81" y="159.00" font-size="4.8" fill="#666" text-anchor="middle" font-weight="normal" stroke="#fff" stroke-width="0.8" paint-order="stroke">5421</text>
<text x="478.67" y="162.50" font-size="4.8" fill="#666" text-anchor="middle" font-weight="normal" stroke="#fff" stroke-width="0.8" paint-order="stroke">5171</text>
<text x="84.23" y="142.50" font-size="4.8" fill="#333" text-anchor="middle" font-weight="bold" stroke="#fff" stroke-width="0.8" paint-order="stroke">6657</text>
<text x="120.09" y="165.20" font-size="4.8" fill="#333" text-anchor="middle" font-weight="bold" stroke="#fff" stroke-width="0.8" paint-order="stroke">4939</text>
<text x="155.95" y="159.30" font-size="4.8" fill="#333" text-anchor="middle" font-weight="bold" stroke="#fff" stroke-width="0.8" paint-order="stroke">5337</text>
<text x="191.80" y="163.70" font-size="4.8" fill="#333" text-anchor="middle" font-weight="bold" stroke="#fff" stroke-width="0.8" paint-order="stroke">5046</text>
<text x="227.66" y="146.70" font-size="4.8" fill="#333" text-anchor="middle" font-weight="bold" stroke="#fff" stroke-width="0.8" paint-order="stroke">6372</text>
<text x="263.52" y="154.20" font-size="4.8" fill="#333" text-anchor="middle" font-weight="bold" stroke="#fff" stroke-width="0.8" paint-order="stroke">5889</text>
<text x="299.38" y="174.00" font-size="4.8" fill="#333" text-anchor="middle" font-weight="bold" stroke="#fff" stroke-width="0.8" paint-order="stroke">4304</text>
<text x="335.24" y="149.70" font-size="4.8" fill="#333" text-anchor="middle" font-weight="bold" stroke="#fff" stroke-width="0.8" paint-order="stroke">6143</text>
<text x="371.10" y="170.70" font-size="4.8" fill="#333" text-anchor="middle" font-weight="bold" stroke="#fff" stroke-width="0.8" paint-order="stroke">4575</text>
<text x="406.95" y="179.30" font-size="4.8" fill="#333" text-anchor="middle" font-weight="bold" stroke="#fff" stroke-width="0.8" paint-order="stroke">3922</text>
<text x="442.81" y="170.30" font-size="4.8" fill="#333" text-anchor="middle" font-weight="bold" stroke="#fff" stroke-width="0.8" paint-order="stroke">4625</text>
<text x="478.67" y="154.50" font-size="4.8" fill="#333" text-anchor="middle" font-weight="bold" stroke="#fff" stroke-width="0.8" paint-order="stroke">5787</text>
<text x="84.23" y="242.00" font-size="5.1" fill="#777" text-anchor="middle" font-weight="normal" >2018-01</text>
<text x="120.09" y="242.00" font-size="5.1" fill="#777" text-anchor="middle" font-weight="normal" >2018-02</text>
<text x="155.95" y="242.00" font-size="5.1" fill="#777" text-anchor="middle" font-weight="normal" >2018-03</text>
<text x="191.80" y="242.00" font-size="5.1" fill="#777" text-anchor="middle" font-weight="normal" >2018-04</text>
<text x="227.66" y="242.00" font-size="5.1" fill="#777" text-anchor="middle" font-weight="normal" >2018-05</text>
<text x="263.52" y="242.00" font-size="5.1" fill="#777" text-anchor="middle" font-weight="normal" >2018-06</text>
<text x="299.38" y="242.00" font-size="5.1" fill="#777" text-anchor="middle" font-weight="normal" >2018-07</text>
<text x="335.24" y="242.00" font-size="5.1" fill="#777" text-anchor="middle" font-weight="normal" >2018-08</text>
<text x="371.10" y="242.00" font-size="5.1" fill="#777" text-anchor="middle" font-weight="normal" >2018-09</text>
<text x="406.95" y="242.00" font-size="5.1" fill="#777" text-anchor="middle" font-weight="normal" >2018-10</text>
<text x="442.81" y="242.00" font-size="5.1" fill="#777" text-anchor="middle" font-weight="normal" >2018-11</text>
<text x="478.67" y="242.00" font-size="5.1" fill="#777" text-anchor="middle" font-weight="normal" >2018-12</text>
<line x1="253" y1="122.5" x2="262.7" y2="122.5" stroke="#4a62c8" stroke-width="0.8"/><circle cx="257.9" cy="122.5" r="1.8" fill="#4a62c8"/>
<text x="265.00" y="124.20" font-size="4.8" fill="#222" text-anchor="start" font-weight="normal" >产出量</text>
<line x1="284" y1="122.5" x2="294" y2="122.5" stroke="#4ddbec" stroke-width="0.8"/><circle cx="289" cy="122.5" r="2" fill="#fff" stroke="#4ddbec" stroke-width="0.7"/>
<text x="296.00" y="124.20" font-size="4.8" fill="#222" text-anchor="start" font-weight="normal" >订单量</text>
<text x="594.70" y="236.50" font-size="5.1" fill="#b4b4b4" text-anchor="middle" font-weight="normal" >0</text>
<text x="594.70" y="220.90" font-size="5.1" fill="#b4b4b4" text-anchor="middle" font-weight="normal" >500</text>
<text x="594.70" y="205.30" font-size="5.1" fill="#b4b4b4" text-anchor="middle" font-weight="normal" >1,000</text>
<text x="594.70" y="189.70" font-size="5.1" fill="#b4b4b4" text-anchor="middle" font-weight="normal" >1,500</text>
<text x="594.70" y="174.10" font-size="5.1" fill="#b4b4b4" text-anchor="middle" font-weight="normal" >2,000</text>
<text x="594.70" y="158.50" font-size="5.1" fill="#b4b4b4" text-anchor="middle" font-weight="normal" >2,500</text>
<text x="594.70" y="142.90" font-size="5.1" fill="#b4b4b4" text-anchor="middle" font-weight="normal" >3,000</text>
<line x1="600.70" y1="141.10" x2="600.70" y2="234.70" stroke="#e4e4e4" stroke-width="0.6"/>
<line x1="651.48" y1="141.10" x2="651.48" y2="234.70" stroke="#e4e4e4" stroke-width="0.6"/>
<line x1="702.27" y1="141.10" x2="702.27" y2="234.70" stroke="#e4e4e4" stroke-width="0.6"/>
<line x1="753.05" y1="141.10" x2="753.05" y2="234.70" stroke="#e4e4e4" stroke-width="0.6"/>
<line x1="803.83" y1="141.10" x2="803.83" y2="234.70" stroke="#e4e4e4" stroke-width="0.6"/>
<line x1="854.62" y1="141.10" x2="854.62" y2="234.70" stroke="#e4e4e4" stroke-width="0.6"/>
<line x1="905.40" y1="141.10" x2="905.40" y2="234.70" stroke="#e4e4e4" stroke-width="0.6"/>
<line x1="600.70" y1="234.70" x2="905.40" y2="234.70" stroke="#ebebeb" stroke-width="0.6"/>
<rect x="622.09" y="145.70" width="8" height="89.00" rx="2.5" fill="#5470c6"/>
<text x="626.09" y="143.10" font-size="4.8" fill="#333" text-anchor="middle" font-weight="bold" >2875</text>
<text x="626.09" y="242.20" font-size="4.8" fill="#999" text-anchor="middle" font-weight="normal" >已送检</text>
<rect x="672.88" y="205.00" width="8" height="29.70" rx="2.5" fill="#5470c6"/>
<text x="676.88" y="202.40" font-size="4.8" fill="#333" text-anchor="middle" font-weight="bold" >868</text>
<text x="676.88" y="242.20" font-size="4.8" fill="#999" text-anchor="middle" font-weight="normal" >三级检</text>
<rect x="723.66" y="210.60" width="8" height="24.10" rx="2.5" fill="#5470c6"/>
<text x="727.66" y="208.00" font-size="4.8" fill="#333" text-anchor="middle" font-weight="bold" >784</text>
<text x="727.66" y="242.20" font-size="4.8" fill="#999" text-anchor="middle" font-weight="normal" >终检</text>
<rect x="774.44" y="215.30" width="8" height="19.40" rx="2.5" fill="#5470c6"/>
<text x="778.44" y="212.70" font-size="4.8" fill="#333" text-anchor="middle" font-weight="bold" >631</text>
<text x="778.44" y="242.20" font-size="4.8" fill="#999" text-anchor="middle" font-weight="normal" >二级检</text>
<rect x="825.23" y="216.70" width="8" height="18.00" rx="2.5" fill="#5470c6"/>
<text x="829.23" y="214.10" font-size="4.8" fill="#333" text-anchor="middle" font-weight="bold" >567</text>
<text x="829.23" y="242.20" font-size="4.8" fill="#999" text-anchor="middle" font-weight="normal" >一级检</text>
<rect x="876.01" y="225.10" width="8" height="9.60" rx="2.5" fill="#5470c6"/>
<text x="880.01" y="222.50" font-size="4.8" fill="#333" text-anchor="middle" font-weight="bold" >321</text>
<text x="880.01" y="242.20" font-size="4.8" fill="#999" text-anchor="middle" font-weight="normal" >返修</text>
<rect x="737.6" y="120" width="9.7" height="4.6" rx="1.2" fill="#5470c6"/>
<text x="749.60" y="124.20" font-size="4.8" fill="#333" text-anchor="start" font-weight="normal" >车间数量</text>
<line x1="71.00" y1="379.00" x2="533.00" y2="379.00" stroke="#e6e6e6" stroke-width="0.6"/>
<text x="64.30" y="380.80" font-size="5.1" fill="#777" text-anchor="middle" font-weight="normal" >0</text>
<line x1="71.00" y1="367.60" x2="533.00" y2="367.60" stroke="#e6e6e6" stroke-width="0.6"/>
<text x="64.30" y="369.40" font-size="5.1" fill="#777" text-anchor="middle" font-weight="normal" >3,000</text>
<line x1="71.00" y1="356.20" x2="533.00" y2="356.20" stroke="#e6e6e6" stroke-width="0.6"/>
<text x="64.30" y="358.00" font-size="5.1" fill="#777" text-anchor="middle" font-weight="normal" >6,000</text>
<line x1="71.00" y1="344.80" x2="533.00" y2="344.80" stroke="#e6e6e6" stroke-width="0.6"/>
<text x="64.30" y="346.60" font-size="5.1" fill="#777" text-anchor="middle" font-weight="normal" >9,000</text>
<line x1="71.00" y1="333.40" x2="533.00" y2="333.40" stroke="#e6e6e6" stroke-width="0.6"/>
<text x="64.30" y="335.20" font-size="5.1" fill="#777" text-anchor="middle" font-weight="normal" >12,000</text>
<line x1="71.00" y1="322.00" x2="533.00" y2="322.00" stroke="#e6e6e6" stroke-width="0.6"/>
<text x="64.30" y="323.80" font-size="5.1" fill="#777" text-anchor="middle" font-weight="normal" >15,000</text>
<line x1="71.00" y1="310.60" x2="533.00" y2="310.60" stroke="#e6e6e6" stroke-width="0.6"/>
<text x="64.30" y="312.40" font-size="5.1" fill="#777" text-anchor="middle" font-weight="normal" >18,000</text>
<line x1="71.00" y1="299.20" x2="533.00" y2="299.20" stroke="#e6e6e6" stroke-width="0.6"/>
<text x="64.30" y="301.00" font-size="5.1" fill="#777" text-anchor="middle" font-weight="normal" >21,000</text>
<line x1="116.30" y1="299.20" x2="116.30" y2="379.00" stroke="#dedede" stroke-width="0.6"/>
<line x1="162.60" y1="299.20" x2="162.60" y2="379.00" stroke="#dedede" stroke-width="0.6"/>
<line x1="208.90" y1="299.20" x2="208.90" y2="379.00" stroke="#dedede" stroke-width="0.6"/>
<line x1="255.20" y1="299.20" x2="255.20" y2="379.00" stroke="#dedede" stroke-width="0.6"/>
<line x1="301.50" y1="299.20" x2="301.50" y2="379.00" stroke="#dedede" stroke-width="0.6"/>
<line x1="347.80" y1="299.20" x2="347.80" y2="379.00" stroke="#dedede" stroke-width="0.6"/>
<line x1="394.10" y1="299.20" x2="394.10" y2="379.00" stroke="#dedede" stroke-width="0.6"/>
<line x1="440.40" y1="299.20" x2="440.40" y2="379.00" stroke="#dedede" stroke-width="0.6"/>
<line x1="486.70" y1="299.20" x2="486.70" y2="379.00" stroke="#dedede" stroke-width="0.6"/>
<line x1="533.00" y1="299.20" x2="533.00" y2="379.00" stroke="#dedede" stroke-width="0.6"/>
<path d="M93.15 303.00 L139.45 314.30 L185.75 318.80 L232.05 320.40 L278.35 322.20 L324.65 322.70 L370.95 323.80 L417.25 324.20 L463.55 325.60 L509.85 333.50 L509.85 348.10 L463.55 344.00 L417.25 343.40 L370.95 342.90 L324.65 342.90 L278.35 344.50 L232.05 343.40 L185.75 341.40 L139.45 337.70 L93.15 330.40 Z" fill="#9b31ef"/>
<path d="M93.15 330.40 L139.45 337.70 L185.75 341.40 L232.05 343.40 L278.35 344.50 L324.65 342.90 L370.95 342.90 L417.25 343.40 L463.55 344.00 L509.85 348.10 L509.85 360.30 L463.55 355.80 L417.25 355.30 L370.95 354.90 L324.65 354.90 L278.35 357.10 L232.05 355.80 L185.75 354.20 L139.45 351.30 L93.15 348.40 Z" fill="#eef24d"/>
<path d="M93.15 348.40 L139.45 351.30 L185.75 354.20 L232.05 355.80 L278.35 357.10 L324.65 354.90 L370.95 354.90 L417.25 355.30 L463.55 355.80 L509.85 360.30 L509.85 379.00 L463.55 379.00 L417.25 379.00 L370.95 379.00 L324.65 379.00 L278.35 379.00 L232.05 379.00 L185.75 379.00 L139.45 379.00 L93.15 379.00 Z" fill="#5599f2"/>
<path d="M93.15 303.00 L139.45 314.30 L185.75 318.80 L232.05 320.40 L278.35 322.20 L324.65 322.70 L370.95 323.80 L417.25 324.20 L463.55 325.60 L509.85 333.50" fill="none" stroke="#d9a6f0" stroke-width="0.6"/>
<path d="M93.15 330.40 L139.45 337.70 L185.75 341.40 L232.05 343.40 L278.35 344.50 L324.65 342.90 L370.95 342.90 L417.25 343.40 L463.55 344.00 L509.85 348.10" fill="none" stroke="#8e6ad8" stroke-width="0.6"/>
<path d="M93.15 348.40 L139.45 351.30 L185.75 354.20 L232.05 355.80 L278.35 357.10 L324.65 354.90 L370.95 354.90 L417.25 355.30 L463.55 355.80 L509.85 360.30" fill="none" stroke="#4a6bc2" stroke-width="0.6"/>
<circle cx="93.15" cy="303.00" r="1.1" fill="#4a6bd0"/>
<circle cx="139.45" cy="314.30" r="0.9" fill="#f4f4f4"/>
<circle cx="185.75" cy="318.80" r="0.9" fill="#f4f4f4"/>
<circle cx="232.05" cy="320.40" r="0.9" fill="#f4f4f4"/>
<circle cx="278.35" cy="322.20" r="0.9" fill="#f4f4f4"/>
<circle cx="324.65" cy="322.70" r="0.9" fill="#f4f4f4"/>
<circle cx="370.95" cy="323.80" r="0.9" fill="#f4f4f4"/>
<circle cx="417.25" cy="324.20" r="0.9" fill="#f4f4f4"/>
<circle cx="463.55" cy="325.60" r="0.9" fill="#f4f4f4"/>
<circle cx="509.85" cy="333.50" r="0.9" fill="#f4f4f4"/>
<circle cx="93.15" cy="330.40" r="1.1" fill="#4a6bd0"/>
<circle cx="139.45" cy="337.70" r="0.9" fill="#f4f4f4"/>
<circle cx="185.75" cy="341.40" r="0.9" fill="#f4f4f4"/>
<circle cx="232.05" cy="343.40" r="0.9" fill="#f4f4f4"/>
<circle cx="278.35" cy="344.50" r="0.9" fill="#f4f4f4"/>
<circle cx="324.65" cy="342.90" r="0.9" fill="#f4f4f4"/>
<circle cx="370.95" cy="342.90" r="0.9" fill="#f4f4f4"/>
<circle cx="417.25" cy="343.40" r="0.9" fill="#f4f4f4"/>
<circle cx="463.55" cy="344.00" r="0.9" fill="#f4f4f4"/>
<circle cx="509.85" cy="348.10" r="0.9" fill="#f4f4f4"/>
<circle cx="93.15" cy="348.40" r="1.1" fill="#4a6bd0"/>
<circle cx="139.45" cy="351.30" r="0.9" fill="#f4f4f4"/>
<circle cx="185.75" cy="354.20" r="0.9" fill="#f4f4f4"/>
<circle cx="232.05" cy="355.80" r="0.9" fill="#f4f4f4"/>
<circle cx="278.35" cy="357.10" r="0.9" fill="#f4f4f4"/>
<circle cx="324.65" cy="354.90" r="0.9" fill="#f4f4f4"/>
<circle cx="370.95" cy="354.90" r="0.9" fill="#f4f4f4"/>
<circle cx="417.25" cy="355.30" r="0.9" fill="#f4f4f4"/>
<circle cx="463.55" cy="355.80" r="0.9" fill="#f4f4f4"/>
<circle cx="509.85" cy="360.30" r="0.9" fill="#f4f4f4"/>
<text x="93.15" y="299.50" font-size="4.8" fill="#444" text-anchor="middle" font-weight="normal" >7107</text>
<text x="93.15" y="326.90" font-size="4.8" fill="#fff" text-anchor="middle" font-weight="bold" stroke="#555" stroke-width="0.5" paint-order="stroke">4830</text>
<text x="93.15" y="344.90" font-size="4.8" fill="#555" text-anchor="middle" font-weight="normal" stroke="#fff" stroke-width="0.6" paint-order="stroke">7838</text>
<text x="139.45" y="310.80" font-size="4.8" fill="#444" text-anchor="middle" font-weight="normal" >6128</text>
<text x="139.45" y="334.20" font-size="4.8" fill="#fff" text-anchor="middle" font-weight="bold" stroke="#555" stroke-width="0.5" paint-order="stroke">9976</text>
<text x="139.45" y="347.80" font-size="4.8" fill="#555" text-anchor="middle" font-weight="normal" stroke="#fff" stroke-width="0.6" paint-order="stroke">7077</text>
<text x="185.75" y="315.30" font-size="4.8" fill="#444" text-anchor="middle" font-weight="normal" >6265</text>
<text x="185.75" y="337.90" font-size="4.8" fill="#fff" text-anchor="middle" font-weight="bold" stroke="#555" stroke-width="0.5" paint-order="stroke">9821</text>
<text x="185.75" y="350.70" font-size="4.8" fill="#555" text-anchor="middle" font-weight="normal" stroke="#fff" stroke-width="0.6" paint-order="stroke">6611</text>
<text x="232.05" y="316.90" font-size="4.8" fill="#444" text-anchor="middle" font-weight="normal" >6100</text>
<text x="232.05" y="339.90" font-size="4.8" fill="#fff" text-anchor="middle" font-weight="bold" stroke="#555" stroke-width="0.5" paint-order="stroke">9229</text>
<text x="232.05" y="352.30" font-size="4.8" fill="#555" text-anchor="middle" font-weight="normal" stroke="#fff" stroke-width="0.6" paint-order="stroke">6138</text>
<text x="278.35" y="318.70" font-size="4.8" fill="#444" text-anchor="middle" font-weight="normal" >5969</text>
<text x="278.35" y="341.00" font-size="4.8" fill="#fff" text-anchor="middle" font-weight="bold" stroke="#555" stroke-width="0.5" paint-order="stroke">9380</text>
<text x="278.35" y="353.60" font-size="4.8" fill="#555" text-anchor="middle" font-weight="normal" stroke="#fff" stroke-width="0.6" paint-order="stroke">5734</text>
<text x="324.65" y="319.20" font-size="4.8" fill="#444" text-anchor="middle" font-weight="normal" >5213</text>
<text x="324.65" y="339.40" font-size="4.8" fill="#fff" text-anchor="middle" font-weight="bold" stroke="#555" stroke-width="0.5" paint-order="stroke">9967</text>
<text x="324.65" y="351.40" font-size="4.8" fill="#555" text-anchor="middle" font-weight="normal" stroke="#fff" stroke-width="0.6" paint-order="stroke">6299</text>
<text x="370.95" y="320.30" font-size="4.8" fill="#444" text-anchor="middle" font-weight="normal" >5108</text>
<text x="370.95" y="339.40" font-size="4.8" fill="#fff" text-anchor="middle" font-weight="bold" stroke="#555" stroke-width="0.5" paint-order="stroke">9985</text>
<text x="370.95" y="351.40" font-size="4.8" fill="#555" text-anchor="middle" font-weight="normal" stroke="#fff" stroke-width="0.6" paint-order="stroke">6180</text>
<text x="417.25" y="320.70" font-size="4.8" fill="#444" text-anchor="middle" font-weight="normal" >5074</text>
<text x="417.25" y="339.90" font-size="4.8" fill="#fff" text-anchor="middle" font-weight="bold" stroke="#555" stroke-width="0.5" paint-order="stroke">9848</text>
<text x="417.25" y="351.80" font-size="4.8" fill="#555" text-anchor="middle" font-weight="normal" stroke="#fff" stroke-width="0.6" paint-order="stroke">6159</text>
<text x="463.55" y="322.10" font-size="4.8" fill="#444" text-anchor="middle" font-weight="normal" >4880</text>
<text x="463.55" y="340.50" font-size="4.8" fill="#fff" text-anchor="middle" font-weight="bold" stroke="#555" stroke-width="0.5" paint-order="stroke">9883</text>
<text x="463.55" y="352.30" font-size="4.8" fill="#555" text-anchor="middle" font-weight="normal" stroke="#fff" stroke-width="0.6" paint-order="stroke">6162</text>
<text x="509.85" y="330.00" font-size="4.8" fill="#444" text-anchor="middle" font-weight="normal" >4112</text>
<text x="509.85" y="344.60" font-size="4.8" fill="#fff" text-anchor="middle" font-weight="bold" stroke="#555" stroke-width="0.5" paint-order="stroke">2895</text>
<text x="509.85" y="356.80" font-size="4.8" fill="#555" text-anchor="middle" font-weight="normal" stroke="#fff" stroke-width="0.6" paint-order="stroke">4030</text>
<text x="93.15" y="386.80" font-size="5.2" fill="#666" text-anchor="middle" font-weight="normal" >GW-01</text>
<text x="139.45" y="386.80" font-size="5.2" fill="#666" text-anchor="middle" font-weight="normal" >GW-03</text>
<text x="185.75" y="386.80" font-size="5.2" fill="#666" text-anchor="middle" font-weight="normal" >GW-02</text>
<text x="232.05" y="386.80" font-size="5.2" fill="#666" text-anchor="middle" font-weight="normal" >ZD-05</text>
<text x="278.35" y="386.80" font-size="5.2" fill="#666" text-anchor="middle" font-weight="normal" >ZD-01</text>
<text x="324.65" y="386.80" font-size="5.2" fill="#666" text-anchor="middle" font-weight="normal" >ZD-02</text>
<text x="370.95" y="386.80" font-size="5.2" fill="#666" text-anchor="middle" font-weight="normal" >ZSA-01</text>
<text x="417.25" y="386.80" font-size="5.2" fill="#666" text-anchor="middle" font-weight="normal" >ZD-03</text>
<text x="463.55" y="386.80" font-size="5.2" fill="#666" text-anchor="middle" font-weight="normal" >ZD-04</text>
<text x="509.85" y="386.80" font-size="5.2" fill="#666" text-anchor="middle" font-weight="normal" >ZSA-02</text>
<line x1="264.40" y1="279.4" x2="274.40" y2="279.4" stroke="#3b5cae" stroke-width="0.8"/><circle cx="269.40" cy="279.4" r="2.3" fill="#fff" stroke="#3b5cae" stroke-width="0.8"/>
<text x="276.70" y="281.20" font-size="5" fill="#444" text-anchor="start" font-weight="normal" >投入</text>
<line x1="290.80" y1="279.4" x2="300.80" y2="279.4" stroke="#8fb060" stroke-width="0.8"/><circle cx="295.80" cy="279.4" r="2.3" fill="#fff" stroke="#8fb060" stroke-width="0.8"/>
<text x="303.10" y="281.20" font-size="5" fill="#444" text-anchor="start" font-weight="normal" >产出</text>
<line x1="316.80" y1="279.4" x2="326.80" y2="279.4" stroke="#d3dc6a" stroke-width="0.8"/><circle cx="321.80" cy="279.4" r="2.3" fill="#fff" stroke="#d3dc6a" stroke-width="0.8"/>
<text x="329.10" y="281.20" font-size="5" fill="#444" text-anchor="start" font-weight="normal" >订单</text>
<path d="M772.60 275.00 A66.00 66.00 0 0 1 817.53 389.35 L781.59 350.67 A13.20 13.20 0 0 0 772.60 327.80 Z" fill="#7a22d3"/>
<path d="M797.45 367.74 A36.50 36.50 0 0 1 756.83 373.92 L766.90 352.90 A13.20 13.20 0 0 0 781.59 350.67 Z" fill="#3c40d1"/>
<path d="M751.21 385.64 A49.50 49.50 0 0 1 728.81 317.91 L760.92 334.84 A13.20 13.20 0 0 0 766.90 352.90 Z" fill="#14b5d3"/>
<path d="M739.43 323.51 A37.50 37.50 0 0 1 772.60 303.50 L772.60 327.80 A13.20 13.20 0 0 0 760.92 334.84 Z" fill="#1fcdb0"/>
<text x="810.50" y="326.50" font-size="4.9" fill="#fff" text-anchor="middle" font-weight="bold" stroke="#fff" stroke-width="0.2">故障维修38.08%</text>
<text x="777.70" y="369.50" font-size="4.9" fill="#fff" text-anchor="middle" font-weight="bold" stroke="#fff" stroke-width="0.2">未验收19.04%</text>
<text x="741.50" y="352.20" font-size="4.9" fill="#fff" text-anchor="middle" font-weight="bold" stroke="#fff" stroke-width="0.2">生产25.6%</text>
<text x="759.00" y="319.80" font-size="4.9" fill="#fff" text-anchor="middle" font-weight="bold" stroke="#fff" stroke-width="0.2">暂停17.28%</text>
</svg>
<svg style="position:absolute;left:0;top:0" width="954" height="130">
<g fill="none" stroke="#f2f2f2" stroke-width="0.7">
<path d="M500.6 108.6 Q502.8 105.2 505 108.6 Z" fill="#f2f2f2"/>
<line x1="500" y1="109.9" x2="505.6" y2="109.9"/>
<rect x="512" y="105.7" width="4.2" height="4.2"/>
<rect x="513.2" y="107.3" width="1.8" height="1.6"/>
<circle cx="525.2" cy="107.8" r="2.1"/>
<path d="M534.3 106.9 V105.8 H535.4 M537.2 105.8 H538.3 V106.9 M538.3 108.7 V109.8 H537.2 M535.4 109.8 H534.3 V108.7"/>
<path d="M549.2 106.2 V109.8 H545.4 V105.8 H547.6"/>
<path d="M547.6 107.9 L549.5 105.6"/>
</g></svg>

<div class="abs" style="left:8px;top:35.3px;color:#fff;font-weight:bold;font-size:8.4px;line-height:10px;letter-spacing:0.45px;-webkit-text-stroke:0.3px #fff;white-space:nowrap;font-family:'Liberation Serif',serif">开启一天的工作吧~</div>

</body></html>
